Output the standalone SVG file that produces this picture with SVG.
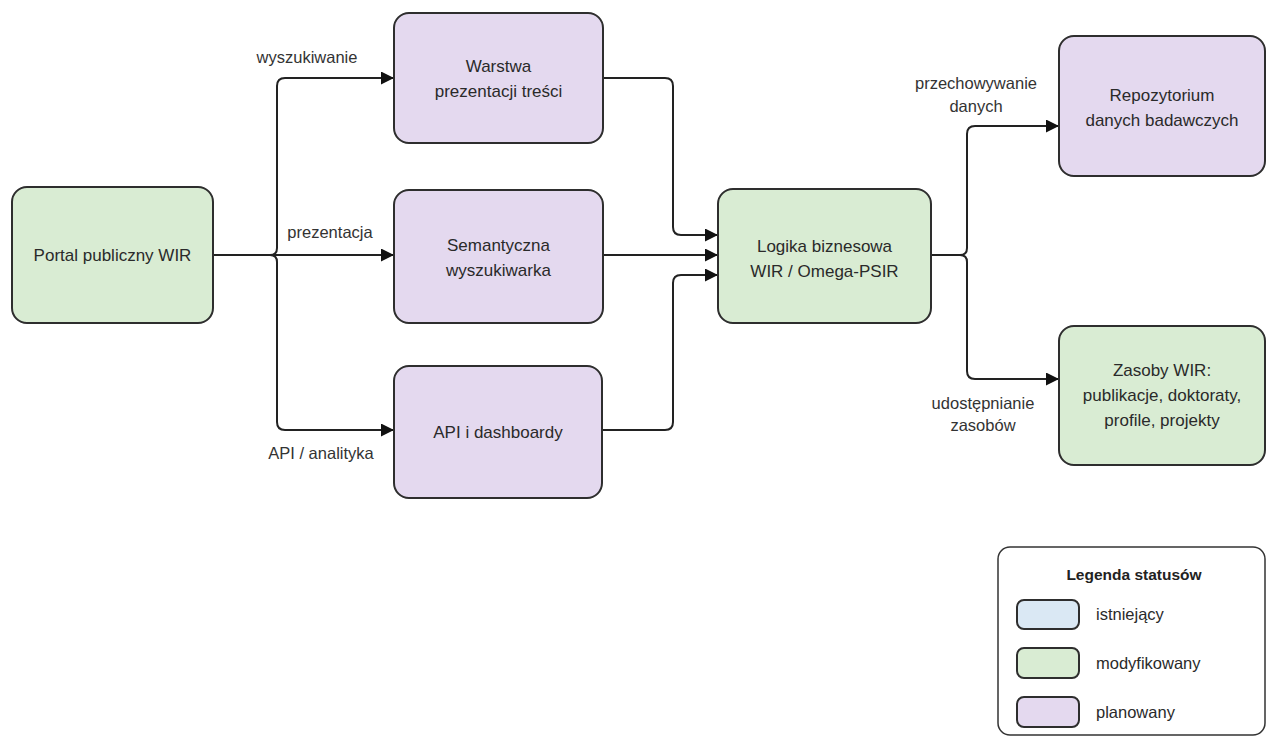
<svg xmlns="http://www.w3.org/2000/svg" width="1267" height="740" viewBox="0 0 1267 740">
<style>
.node{stroke:#2e2e2e;stroke-width:2}
.mod{fill:#d9ecd3}
.plan{fill:#e4d9ef}
.exist{fill:#dae8f4}
.t{font-family:"Liberation Sans",Arial,sans-serif;font-size:17px;fill:#2a2a2a;text-anchor:middle}
.lbl{font-family:"Liberation Sans",Arial,sans-serif;font-size:16.5px;fill:#333;text-anchor:middle}
.lt{font-family:"Liberation Sans",Arial,sans-serif;font-size:16.5px;fill:#2a2a2a}
.conn{fill:none;stroke:#222;stroke-width:2}
</style>
<defs>
<marker id="arr" markerUnits="userSpaceOnUse" markerWidth="14" markerHeight="14" refX="13" refY="6.5" orient="auto">
<path d="M0,0 L13,6.5 L0,13 z" fill="#111"/>
</marker>
</defs>
<rect width="1267" height="740" fill="#ffffff"/>
<g id="connectors">
<path class="conn" d="M213,255 H270 Q277,255 277,248 V86 Q277,78 285,78 H394" marker-end="url(#arr)"/>
<path class="conn" d="M213,255 H394" marker-end="url(#arr)"/>
<path class="conn" d="M213,255 H270 Q277,255 277,262 V422 Q277,430 285,430 H394" marker-end="url(#arr)"/>
<path class="conn" d="M603,78 H665 Q673,78 673,86 V227 Q673,235 681,235 H718" marker-end="url(#arr)"/>
<path class="conn" d="M603,255 H718" marker-end="url(#arr)"/>
<path class="conn" d="M602,430 H665 Q673,430 673,422 V283 Q673,275 681,275 H718" marker-end="url(#arr)"/>
<path class="conn" d="M931,255 H960 Q967,255 967,248 V134 Q967,126 975,126 H1059" marker-end="url(#arr)"/>
<path class="conn" d="M931,255 H960 Q967,255 967,262 V371 Q967,379 975,379 H1059" marker-end="url(#arr)"/>
<text class="lbl" x="307" y="63">wyszukiwanie</text>
<text class="lbl" x="330" y="238">prezentacja</text>
<text class="lbl" x="321" y="459">API / analityka</text>
<text class="lbl" x="976" y="89">przechowywanie</text>
<text class="lbl" x="976" y="112">danych</text>
<text class="lbl" x="983" y="409">udostępnianie</text>
<text class="lbl" x="983" y="431">zasobów</text>
</g>
<g id="portal">
<rect class="node mod" x="12" y="187" width="201" height="136" rx="15"/>
<text class="t" x="112.5" y="261">Portal publiczny WIR</text>
</g>
<g id="warstwa">
<rect class="node plan" x="394" y="13" width="209" height="130" rx="15"/>
<text class="t" x="498.5" y="72">Warstwa</text>
<text class="t" x="498.5" y="97">prezentacji treści</text>
</g>
<g id="semantyczna">
<rect class="node plan" x="394" y="190" width="209" height="133" rx="15"/>
<text class="t" x="498.5" y="251">Semantyczna</text>
<text class="t" x="498.5" y="276">wyszukiwarka</text>
</g>
<g id="api">
<rect class="node plan" x="394" y="366" width="208" height="132" rx="15"/>
<text class="t" x="498" y="438">API i dashboardy</text>
</g>
<g id="logika">
<rect class="node mod" x="718" y="189" width="213" height="134" rx="15"/>
<text class="t" x="824.5" y="252">Logika biznesowa</text>
<text class="t" x="824.5" y="277">WIR / Omega-PSIR</text>
</g>
<g id="repozytorium">
<rect class="node plan" x="1059" y="36" width="206" height="140" rx="15"/>
<text class="t" x="1162" y="101">Repozytorium</text>
<text class="t" x="1162" y="126">danych badawczych</text>
</g>
<g id="zasoby">
<rect class="node mod" x="1059" y="326" width="206" height="139" rx="15"/>
<text class="t" x="1162" y="376">Zasoby WIR:</text>
<text class="t" x="1162" y="401">publikacje, doktoraty,</text>
<text class="t" x="1162" y="426">profile, projekty</text>
</g>
<g id="legend">
<rect x="998" y="547" width="267" height="188" rx="12" fill="#ffffff" stroke="#333" stroke-width="1.5"/>
<text x="1134" y="580" font-family="Liberation Sans, Arial, sans-serif" font-size="15.5" font-weight="bold" fill="#222" text-anchor="middle">Legenda statusów</text>
<rect class="node exist" x="1017" y="600" width="62" height="29" rx="7" stroke-width="1.8"/>
<text class="lt" x="1096" y="620">istniejący</text>
<rect class="node mod" x="1017" y="648" width="62" height="30" rx="7" stroke-width="1.8"/>
<text class="lt" x="1096" y="669">modyfikowany</text>
<rect class="node plan" x="1017" y="697" width="62" height="30" rx="7" stroke-width="1.8"/>
<text class="lt" x="1096" y="718">planowany</text>
</g>
</svg>
